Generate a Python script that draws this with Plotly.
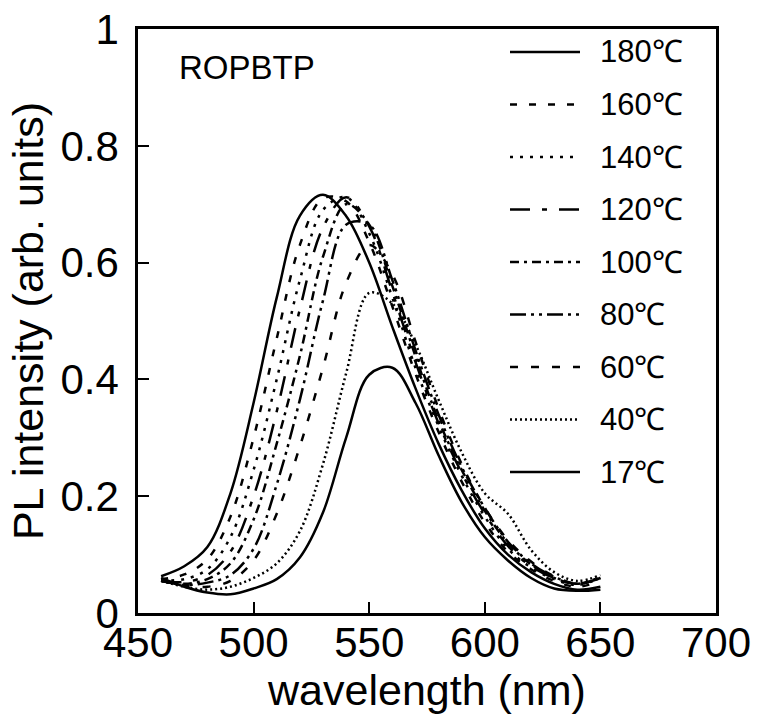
import plotly.graph_objects as go

# ---------------- data ----------------
WAVELENGTH = [460, 470, 480, 490, 500, 510, 520, 530, 540, 550,
              560, 570, 580, 590, 600, 610, 620, 630, 640, 650]

T180 = [.063, .080, .113, .205, .360, .540, .680, .716, .680, .600, .490, .385, .290, .210, .145, .100, .070, .050, .040, .045]
T160 = [.058, .066, .092, .165, .300, .470, .630, .710, .705, .635, .525, .410, .310, .225, .155, .105, .075, .055, .045, .055]
T140 = [.056, .058, .075, .130, .245, .400, .570, .690, .712, .650, .540, .420, .320, .235, .165, .110, .078, .058, .048, .060]
T120 = [.055, .053, .065, .105, .200, .345, .520, .660, .712, .662, .550, .430, .325, .240, .170, .115, .080, .060, .050, .060]
T100 = [.055, .050, .058, .085, .160, .290, .440, .610, .700, .665, .560, .440, .330, .245, .175, .120, .083, .060, .050, .060]
T80  = [.055, .048, .052, .065, .110, .220, .365, .535, .665, .665, .570, .450, .340, .250, .180, .122, .085, .062, .050, .062]
T60  = [.055, .047, .045, .055, .090, .170, .285, .420, .565, .630, .580, .465, .350, .255, .180, .125, .088, .063, .050, .060]
T40  = [.055, .045, .040, .045, .060, .085, .140, .255, .410, .548, .530, .460, .365, .275, .205, .170, .108, .070, .055, .065]
T17  = [.060, .045, .035, .032, .042, .058, .095, .172, .300, .408, .420, .360, .270, .190, .130, .090, .060, .042, .038, .040]

SERIES_NAMES = ["180℃", "160℃", "140℃", "120℃", "100℃", "80℃", "60℃", "40℃", "17℃"]
SERIES_VALUES = [T180, T160, T140, T120, T100, T80, T60, T40, T17]

X_TICKS = [450, 500, 550, 600, 650, 700]
Y_TICKS = [0, 0.2, 0.4, 0.6, 0.8, 1]
Y_TICK_TEXT = ["0", "0.2", "0.4", "0.6", "0.8", "1"]

# ---------------- styles ----------------
DASHES = ["solid", "7px,12px", "3px,7px", "20px,12px,5px,12px",
          "9px,5px,3px,5px", "16px,5px,3px,5px,3px,5px", "8px,13px",
          "2px,3px", "solid"]
FONT = "Liberation Sans, Arial, sans-serif"
W, H = 757, 717
L, R, T, B = 138, 41, 29, 104
PW, PH = W - L - R, H - T - B

fig = go.Figure()
for name, vals, dash in zip(SERIES_NAMES, SERIES_VALUES, DASHES):
    fig.add_trace(go.Scatter(
        x=WAVELENGTH, y=vals, mode="lines", name=name,
        line=dict(color="black", width=2.5, dash=dash, shape="spline", smoothing=1.0),
        showlegend=False))

# hand-built legend (long sample lines like the original)
def px_x(p):
    return (p - L) / PW

def px_y(p):
    return (T + PH - p) / PH

row0, step = 52, 52.5
for i, (name, dash) in enumerate(zip(SERIES_NAMES, DASHES)):
    yy = px_y(row0 + i * step)
    fig.add_shape(type="line", xref="paper", yref="paper",
                  x0=px_x(510), x1=px_x(580), y0=yy, y1=yy,
                  line=dict(color="black", width=2.5, dash=dash))
    fig.add_annotation(xref="paper", yref="paper", x=px_x(598), y=yy,
                       text=name, showarrow=False, xanchor="left", yanchor="middle",
                       font=dict(family=FONT, size=31, color="black"))

fig.add_annotation(xref="paper", yref="paper", x=px_x(177), y=px_y(67),
                   text="ROPBTP", showarrow=False, xanchor="left", yanchor="middle",
                   font=dict(family=FONT, size=33, color="black"))

axis_common = dict(showgrid=False, zeroline=False, showline=True, linecolor="black",
                   linewidth=2.5, mirror=True, ticks="inside", ticklen=11,
                   tickwidth=2, tickcolor="black",
                   tickfont=dict(family=FONT, size=42, color="black"))

fig.update_xaxes(range=[450, 700], tickvals=X_TICKS, ticktext=[str(v) for v in X_TICKS],
                 title=dict(text="wavelength (nm)", font=dict(family=FONT, size=43, color="black"),
                            standoff=2),
                 ticklabelstandoff=-9, **axis_common)
fig.update_yaxes(range=[0, 1], tickvals=Y_TICKS, ticktext=Y_TICK_TEXT,
                 title=dict(text="PL intensity (arb. units)",
                            font=dict(family=FONT, size=43, color="black"), standoff=4),
                 ticklabelstandoff=8, **axis_common)

fig.update_layout(width=W, height=H, margin=dict(l=L, r=R, t=T, b=B, autoexpand=False),
                  paper_bgcolor="white", plot_bgcolor="white", showlegend=False)

fig.write_html("out.html")
